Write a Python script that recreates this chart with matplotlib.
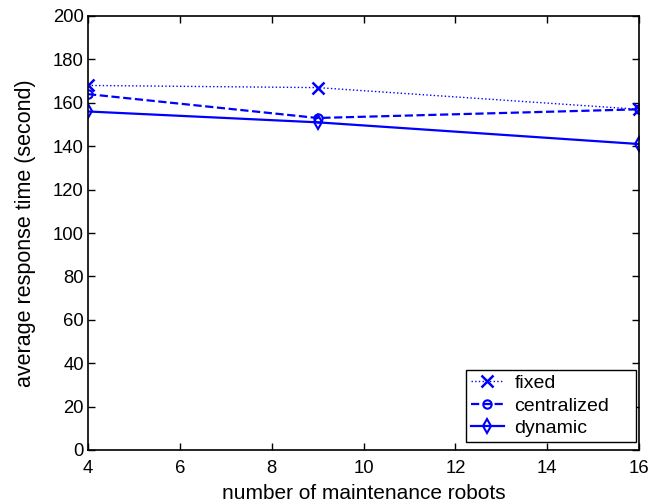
import matplotlib
matplotlib.use("Agg")
import matplotlib.pyplot as plt

plt.rcParams['font.family'] = ['Liberation Sans', 'DejaVu Sans']

robots = [4, 9, 16]
fixed = [168, 167, 157]
centralized = [164, 153, 157]
dynamic = [156, 151, 141]
xticks = [4, 6, 8, 10, 12, 14, 16]
yticks = list(range(0, 201, 20))

fig = plt.figure(figsize=(6.51, 5.04), dpi=100)
ax = fig.add_axes([88/651, 54/504, 551/651, 434/504])
c = '#0000ff'
ax.plot(robots, fixed, ':', color=c, marker='x', ms=8, mew=1.8, lw=1.0, label='fixed')
ax.plot(robots, centralized, '--', color=c, marker='o', ms=6, mfc='none', mew=1.5, lw=1.6, label='centralized')
ax.plot(robots, dynamic, '-', color=c, marker='d', ms=7, mfc='none', mew=1.5, lw=1.6, label='dynamic')

ax.set_xlim(4, 16)
ax.set_ylim(0, 200)
ax.set_xticks(xticks)
ax.set_yticks(yticks)
ax.tick_params(direction='in', labelsize=13.3, length=5, top=True, right=True, width=1, pad=3)
ax.tick_params(axis='x', pad=7)
for s in ax.spines.values():
    s.set_linewidth(1.2)
ax.set_xlabel('number of maintenance robots', fontsize=15, labelpad=5)
ax.set_ylabel('average response time (second)', fontsize=15.5, labelpad=12)
leg = ax.legend(loc='lower left', bbox_to_anchor=(378/551, 8/434, 170/551, 71/434), mode='expand',
                borderaxespad=0, fontsize=14, fancybox=False, edgecolor='black', numpoints=1,
                framealpha=1, handlelength=1.7, handletextpad=0.55, labelspacing=0.25,
                borderpad=0.25)
leg.get_frame().set_linewidth(1.0)
fig.savefig('out.png', dpi=100)
